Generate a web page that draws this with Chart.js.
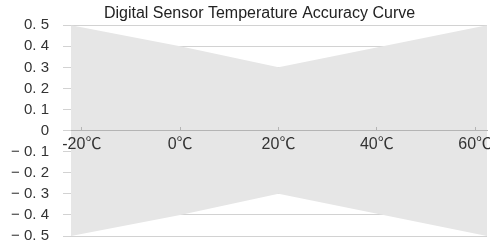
<!DOCTYPE html>
<html>
<head>
<meta charset="utf-8">
<script src="https://cdn.jsdelivr.net/npm/chart.js@4"></script>
<style>
  html, body { margin: 0; padding: 0; background: #fff; }
  #wrap { width: 490px; height: 248px; }
</style>
</head>
<body>
<div id="wrap"><canvas id="accuracyChart" width="490" height="248"></canvas></div>
<script>
// 온도 (℃) - 좌우 끝은 그림 가장자리까지 이어지는 값
const temps = [-22.2, 0, 20, 62.4];
// 허용 오차 상한 / 하한 (℃)
const upperLimit = [0.5, 0.4, 0.3, 0.5];
const lowerLimit = [-0.5, -0.4, -0.3, -0.5];
// 축 눈금
const xTicks = [-20, 0, 20, 40, 60];

const fontFamily = "'Liberation Sans', Arial, 'Noto Sans CJK SC', sans-serif";

// y축 라벨 형식: "0. 5", "− 0. 1"
function yLabel(v) {
    const r = Math.round(v * 10) / 10;
    if (r === 0) return '0';
    const d = Math.round(Math.abs(r) * 10);
    return (r < 0 ? '− ' : '') + '0. ' + d;
}

// 제목을 원본처럼 약간 오른쪽에 두기
const titleShift = {
    id: 'titleShift',
    afterLayout(chart) {
        if (chart.titleBlock) chart.titleBlock.left += 32;
    }
};

const ctx = document.getElementById('accuracyChart').getContext('2d');
new Chart(ctx, {
    type: 'line',
    data: {
        datasets: [{
            label: 'upper',
            data: temps.map((t, i) => ({ x: t, y: upperLimit[i] })),
            fill: '+1',
            backgroundColor: '#e6e6e6',
            borderColor: 'transparent',
            borderWidth: 0,
            pointRadius: 0,
            tension: 0
        }, {
            label: 'lower',
            data: temps.map((t, i) => ({ x: t, y: lowerLimit[i] })),
            fill: false,
            borderColor: 'transparent',
            borderWidth: 0,
            pointRadius: 0,
            tension: 0
        }]
    },
    options: {
        responsive: false,
        devicePixelRatio: 1,
        animation: false,
        layout: { padding: { top: 0, right: 3, bottom: 12, left: 0 } },
        plugins: {
            legend: { display: false },
            tooltip: { enabled: false },
            title: {
                display: true,
                text: 'Digital Sensor Temperature Accuracy Curve',
                color: '#222',
                font: { family: fontFamily, size: 16, weight: 'normal' },
                padding: { top: 4, bottom: 2 }
            }
        },
        scales: {
            x: {
                type: 'linear',
                position: { y: 0 },
                min: temps[0],
                max: temps[temps.length - 1],
                afterBuildTicks: s => { s.ticks = xTicks.map(v => ({ value: v })); },
                // 0 위치 축은 바깥 공간을 차지하지 않도록
                afterFit: s => {
                    s.height = 0;
                    s.paddingLeft = 0;
                    s.paddingRight = 0;
                },
                // 축선/눈금/라벨을 채우기 영역 위에 그림
                grid: { drawOnChartArea: false, tickLength: -4, color: '#b4b4b4', z: 1 },
                border: { color: '#b4b4b4', z: 1 },
                ticks: {
                    z: 1,
                    padding: 8,
                    autoSkip: false,
                    maxRotation: 0,
                    color: '#333',
                    font: { family: fontFamily, size: 16 },
                    callback: v => v + '℃'
                }
            },
            y: {
                min: -0.5,
                max: 0.5,
                afterFit: s => {
                    s.width = 71;
                    s.paddingTop = 0;
                    s.paddingBottom = 0;
                },
                border: { display: false },
                grid: { color: '#d2d2d2', tickLength: 8 },
                ticks: {
                    stepSize: 0.1,
                    padding: 14,
                    color: '#333',
                    font: { family: fontFamily, size: 15 },
                    callback: v => yLabel(v)
                }
            }
        }
    },
    plugins: [titleShift]
});
</script>
</body>
</html>
